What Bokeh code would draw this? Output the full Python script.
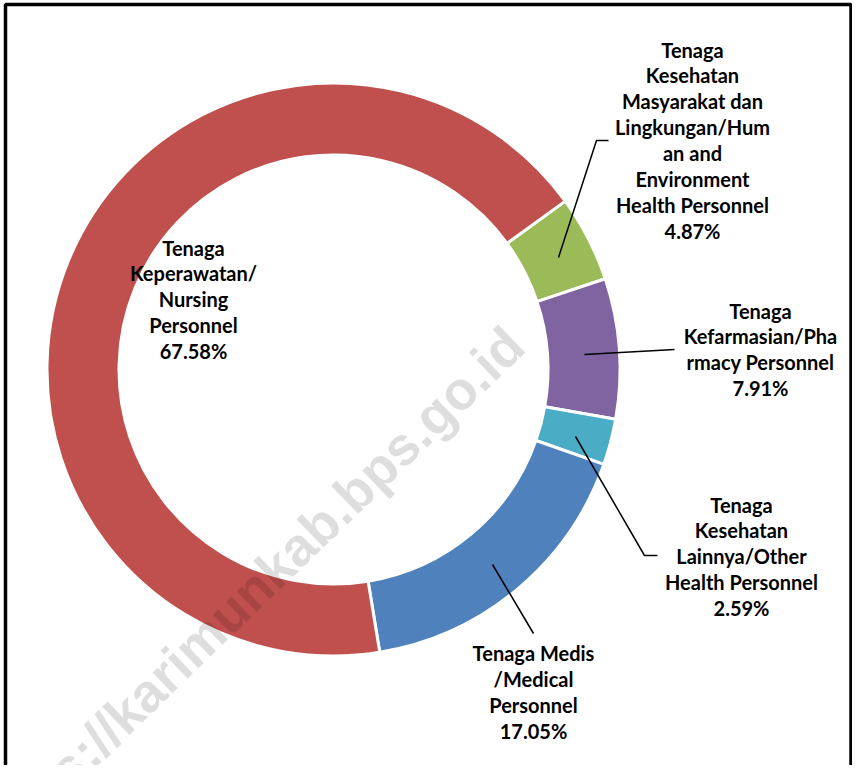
import math
from bokeh.plotting import figure
from bokeh.models import ColumnDataSource, Range1d
from bokeh.core.properties import value
from bokeh.embed import file_html
from bokeh.resources import INLINE

# ---------------- data ----------------
categories = [
    "Tenaga Kesehatan Masyarakat dan Lingkungan/Human and Environment Health Personnel",
    "Tenaga Kefarmasian/Pharmacy Personnel",
    "Tenaga Kesehatan Lainnya/Other Health Personnel",
    "Tenaga Medis /Medical Personnel",
    "Tenaga Keperawatan/ Nursing Personnel",
]
shares = [4.87, 7.91, 2.59, 17.05, 67.58]
label_lines = [
    ["Tenaga", "Kesehatan", "Masyarakat dan", "Lingkungan/Hum", "an and", "Environment", "Health Personnel"],
    ["Tenaga", "Kefarmasian/Pha", "rmacy Personnel"],
    ["Tenaga", "Kesehatan", "Lainnya/Other", "Health Personnel"],
    ["Tenaga Medis", "/Medical", "Personnel"],
    ["Tenaga", "Keperawatan/", "Nursing", "Personnel"],
]
watermark = "https://karimunkab.bps.go.id"

# ---------------- styles / layout ----------------
colors = ["#9BBB59", "#8064A2", "#4BACC6", "#4F81BD", "#C0504D"]
W, H = 852, 765          # figure size; picture x = data x, picture y = H - data y
def Y(yp):
    return H - yp

CX, CY = 333, Y(369)
R_OUT, R_IN = 286.5, 214.5
START_DEG = 36.0          # first slice begins here (math angle), goes clockwise

# label placement: (center x, first baseline y, line step) in picture pixels
label_pos = [(692, 49, 25.9), (760, 310, 25.8), (741, 504, 25.8), (533, 652, 26.0), (193, 247, 25.8)]
leaders = [
    [(558, 257), (596, 140), (608, 140)],
    [(584, 354), (674, 349)],
    [(575, 436), (644, 555), (657, 555)],
    [(492, 564), (533, 633)],
]

p = figure(width=W, height=H, output_backend="svg", toolbar_location=None,
           x_range=Range1d(0, W), y_range=Range1d(0, H),
           x_axis_location=None, y_axis_location=None, min_border=0)
p.outline_line_color = None
p.grid.visible = False
p.background_fill_color = "white"
p.border_fill_color = "white"

# ---- donut ----
total = sum(shares)
starts, ends = [], []
cum = 0.0
for v in shares:
    s = math.radians(START_DEG) - cum / total * 2 * math.pi
    cum += v
    e = math.radians(START_DEG) - cum / total * 2 * math.pi
    starts.append(s)
    ends.append(e)
src = ColumnDataSource(dict(x=[CX] * len(shares), y=[CY] * len(shares),
                            start=starts, end=ends, color=colors, cat=categories))
p.annular_wedge(x="x", y="y", inner_radius=R_IN, outer_radius=R_OUT,
                start_angle="start", end_angle="end", direction="clock",
                fill_color="color", line_color="white", line_width=3, source=src)

# ---- watermark ----
p.text(x=[249], y=[Y(592)], text=[watermark], angle=math.radians(44),
       text_font=value("Liberation Sans"), text_font_style="bold",
       text_font_size="54px", text_color="black", text_alpha=0.13,
       text_align="center", text_baseline="alphabetic")

# ---- leader lines ----
for path in leaders:
    p.line(x=[pt[0] for pt in path], y=[Y(pt[1]) for pt in path],
           line_color="black", line_width=1.5)

# ---- labels ----
tx, ty, tt = [], [], []
for lines, v, (lx, ly, step) in zip(label_lines, shares, label_pos):
    all_lines = lines + [f"{v:.2f}%"]
    for i, t in enumerate(all_lines):
        tx.append(lx)
        ty.append(Y(ly + i * step))
        tt.append(t)
p.text(x=tx, y=ty, text=tt, text_font=value("Lato"), text_font_style="bold",
       text_font_size="20px", text_color="black",
       text_align="center", text_baseline="alphabetic")

# ---- frame border (cropped at bottom) ----
p.line(x=[5, 5, 850.5, 850.5], y=[0, Y(4), Y(4), 0], line_color="black", line_width=3.5)

open("out.html", "w").write(file_html(p, INLINE))
